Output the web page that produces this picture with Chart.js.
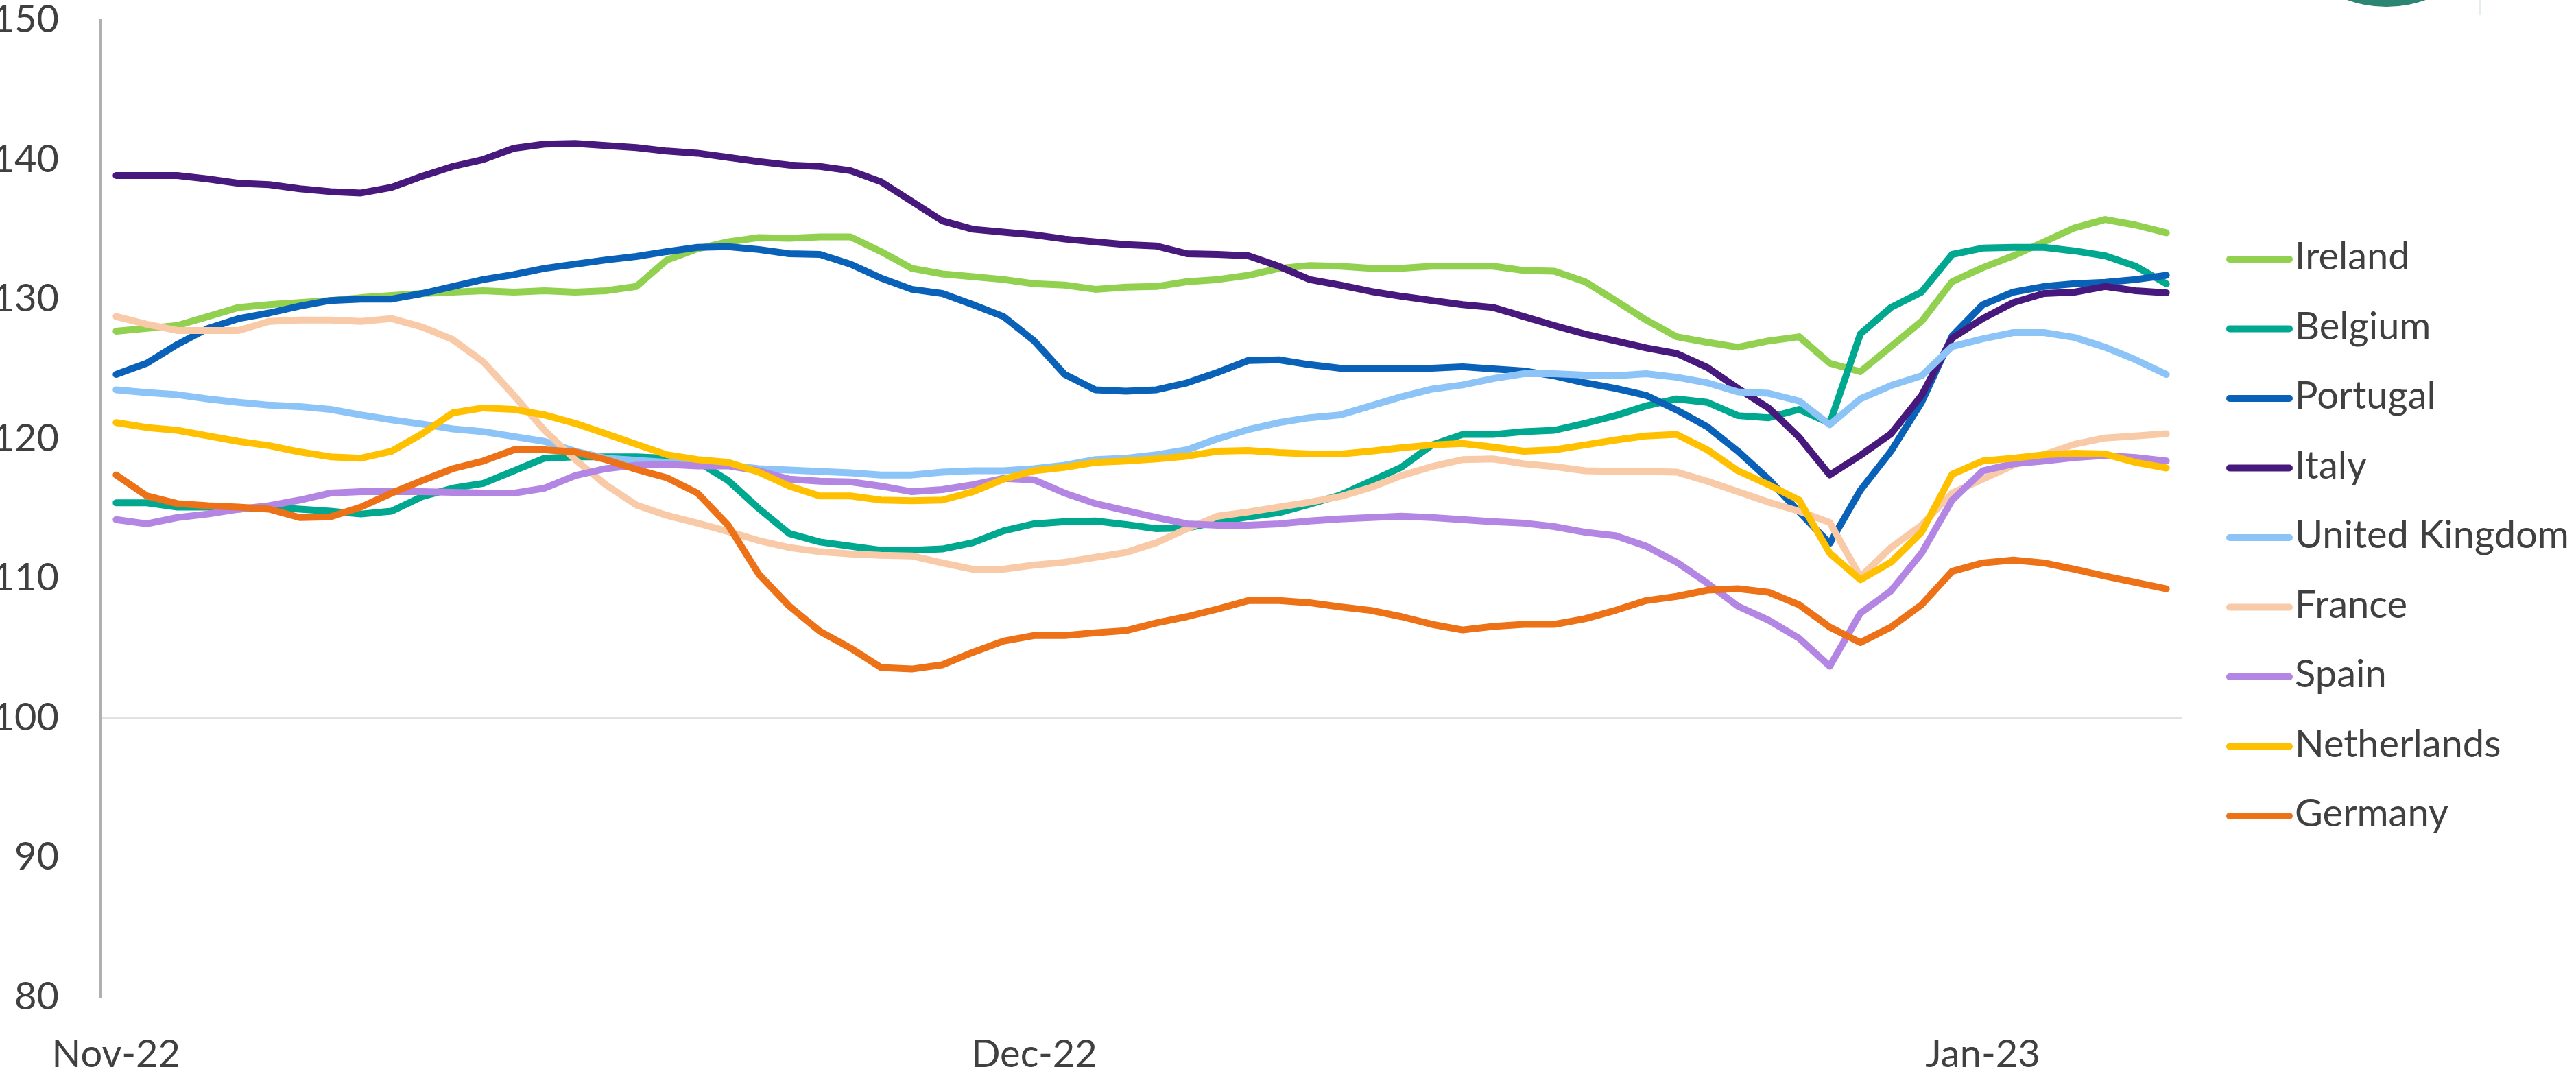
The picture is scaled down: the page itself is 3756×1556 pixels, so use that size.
<!DOCTYPE html>
<html>
<head>
<meta charset="utf-8">
<title>Index by country</title>
<script src="https://cdn.jsdelivr.net/npm/chart.js@4.4.1/dist/chart.umd.min.js"></script>
<style>
    html, body { margin: 0; padding: 0; background: #ffffff; }
    #wrap { width: 3756px; height: 1556px; position: relative; }
</style>
</head>
<body>
<div id="wrap"><canvas id="chart"></canvas></div>
<script>
// ===== DATA =====

// Daily values, 1 Nov 2022 .. 7 Jan 2023
const countries = ['Ireland', 'Belgium', 'Portugal', 'Italy', 'United Kingdom', 'France', 'Spain', 'Netherlands', 'Germany'];
const colors = ['#92d050', '#00a88f', '#0a62b8', '#47197c', '#8cc4f7', '#f8caa8', '#b386e4', '#ffc000', '#ec7117'];

const ireland = [127.7, 127.9, 128.1, 128.75, 129.4, 129.6, 129.75, 129.9, 130.1, 130.25, 130.4, 130.5, 130.6, 130.5, 130.6, 130.5, 130.6, 130.9, 132.8, 133.6,
    134.1, 134.4, 134.35, 134.45, 134.45, 133.4, 132.2, 131.8, 131.6, 131.4, 131.1, 131.0, 130.7, 130.85, 130.9, 131.25, 131.4, 131.7, 132.2, 132.4,
    132.35, 132.2, 132.2, 132.35, 132.35, 132.35, 132.05, 132.0, 131.25, 129.9, 128.5, 127.3, 126.9, 126.55, 127.0, 127.3, 125.4, 124.8, 126.6, 128.4,
    131.25, 132.25, 133.1, 134.1, 135.1, 135.7, 135.3, 134.75];
const belgium = [115.4, 115.4, 115.1, 115.1, 114.95, 115.1, 114.95, 114.8, 114.6, 114.8, 115.85, 116.45, 116.8, 117.7, 118.6, 118.7, 118.7, 118.7, 118.6, 118.35,
    117.0, 115.0, 113.2, 112.6, 112.3, 112.0, 112.0, 112.1, 112.55, 113.4, 113.9, 114.05, 114.1, 113.85, 113.55, 113.6, 114.05, 114.4, 114.7, 115.3,
    115.95, 116.95, 117.95, 119.55, 120.3, 120.3, 120.5, 120.6, 121.1, 121.65, 122.35, 122.85, 122.6, 121.65, 121.5, 122.1, 121.1, 127.5, 129.4, 130.5,
    133.2, 133.65, 133.7, 133.7, 133.45, 133.1, 132.35, 131.1];
const portugal = [124.6, 125.4, 126.75, 127.9, 128.6, 129.0, 129.5, 129.9, 130.0, 130.0, 130.4, 130.9, 131.4, 131.75, 132.2, 132.5, 132.8, 133.05, 133.4, 133.7,
    133.75, 133.55, 133.25, 133.2, 132.5, 131.5, 130.7, 130.4, 129.6, 128.75, 127.0, 124.6, 123.5, 123.4, 123.5, 124.0, 124.75, 125.6, 125.65, 125.3,
    125.05, 125.0, 125.0, 125.05, 125.15, 125.0, 124.85, 124.5, 124.0, 123.6, 123.1, 122.05, 120.85, 119.1, 117.1, 114.75, 112.5, 116.3, 119.1, 122.6,
    127.35, 129.6, 130.5, 130.9, 131.1, 131.2, 131.4, 131.7];
const italy = [138.85, 138.85, 138.85, 138.6, 138.3, 138.2, 137.9, 137.7, 137.6, 138.0, 138.8, 139.5, 140.0, 140.8, 141.1, 141.15, 141.0, 140.85, 140.6, 140.45,
    140.15, 139.85, 139.6, 139.5, 139.2, 138.4, 137.0, 135.6, 135.0, 134.8, 134.6, 134.3, 134.1, 133.9, 133.8, 133.25, 133.2, 133.1, 132.35, 131.4,
    131.0, 130.55, 130.2, 129.9, 129.6, 129.4, 128.75, 128.1, 127.5, 127.0, 126.5, 126.1, 125.1, 123.6, 122.2, 120.1, 117.4, 118.8, 120.35, 123.1,
    127.2, 128.6, 129.75, 130.4, 130.5, 130.9, 130.6, 130.45];
const unitedKingdom = [123.5, 123.3, 123.15, 122.85, 122.6, 122.4, 122.3, 122.1, 121.7, 121.35, 121.05, 120.7, 120.5, 120.15, 119.8, 119.1, 118.6, 118.45, 118.3, 118.2,
    118.1, 117.85, 117.75, 117.65, 117.55, 117.4, 117.4, 117.6, 117.7, 117.7, 117.85, 118.1, 118.5, 118.6, 118.85, 119.2, 120.0, 120.65, 121.15, 121.5,
    121.7, 122.35, 123.0, 123.55, 123.85, 124.3, 124.65, 124.65, 124.55, 124.5, 124.65, 124.4, 124.0, 123.35, 123.25, 122.7, 121.0, 122.85, 123.8, 124.5,
    126.6, 127.15, 127.6, 127.6, 127.25, 126.55, 125.65, 124.6];
const france = [128.75, 128.2, 127.75, 127.75, 127.75, 128.4, 128.5, 128.5, 128.4, 128.6, 128.0, 127.1, 125.5, 123.1, 120.6, 118.5, 116.7, 115.25, 114.5, 113.95,
    113.35, 112.7, 112.2, 111.9, 111.75, 111.65, 111.6, 111.1, 110.65, 110.65, 110.95, 111.15, 111.5, 111.85, 112.55, 113.55, 114.45, 114.75, 115.1, 115.45,
    115.85, 116.5, 117.35, 118.0, 118.5, 118.55, 118.2, 118.0, 117.7, 117.65, 117.65, 117.6, 116.95, 116.2, 115.45, 114.8, 114.0, 110.1, 112.2, 113.8,
    116.1, 117.1, 118.1, 118.85, 119.6, 120.05, 120.2, 120.35];
const spain = [114.2, 113.9, 114.35, 114.6, 114.95, 115.2, 115.6, 116.1, 116.2, 116.2, 116.2, 116.15, 116.1, 116.1, 116.45, 117.35, 117.85, 118.1, 118.15, 118.05,
    118.05, 117.7, 117.1, 116.95, 116.9, 116.6, 116.2, 116.35, 116.7, 117.15, 117.05, 116.1, 115.35, 114.85, 114.35, 113.9, 113.8, 113.8, 113.9, 114.1,
    114.25, 114.35, 114.45, 114.35, 114.2, 114.05, 113.95, 113.7, 113.3, 113.05, 112.3, 111.15, 109.65, 108.0, 107.0, 105.7, 103.7, 107.5, 109.1, 111.8,
    115.6, 117.7, 118.2, 118.4, 118.65, 118.8, 118.65, 118.4];
const netherlands = [121.15, 120.8, 120.6, 120.2, 119.8, 119.5, 119.05, 118.7, 118.6, 119.1, 120.35, 121.85, 122.2, 122.1, 121.7, 121.1, 120.35, 119.6, 118.85, 118.5,
    118.3, 117.6, 116.6, 115.9, 115.9, 115.6, 115.55, 115.6, 116.2, 117.1, 117.7, 117.95, 118.3, 118.4, 118.55, 118.75, 119.1, 119.15, 119.0, 118.9,
    118.9, 119.1, 119.35, 119.55, 119.65, 119.4, 119.1, 119.2, 119.55, 119.9, 120.2, 120.3, 119.2, 117.7, 116.7, 115.6, 111.8, 109.9, 111.15, 113.3,
    117.45, 118.4, 118.6, 118.85, 118.95, 118.9, 118.3, 117.9];
const germany = [117.4, 115.9, 115.35, 115.2, 115.1, 114.95, 114.35, 114.4, 115.1, 116.1, 117.0, 117.85, 118.4, 119.2, 119.2, 119.05, 118.5, 117.8, 117.2, 116.1,
    113.8, 110.3, 108.0, 106.2, 105.0, 103.6, 103.5, 103.8, 104.7, 105.5, 105.9, 105.9, 106.1, 106.25, 106.8, 107.25, 107.8, 108.4, 108.4, 108.25,
    107.95, 107.7, 107.25, 106.7, 106.3, 106.55, 106.7, 106.7, 107.1, 107.7, 108.4, 108.7, 109.15, 109.25, 109.0, 108.1, 106.5, 105.4, 106.5, 108.1,
    110.5, 111.1, 111.3, 111.1, 110.65, 110.15, 109.7, 109.25];

const seriesValues = [ireland, belgium, portugal, italy, unitedKingdom, france, spain, netherlands, germany];

// Month tick labels, shown on the first day of each month
const monthTicks = { 10: 'Nov-22', 11: 'Dec-22', 0: 'Jan-23' };
const days = ireland.map((v, i) => new Date(2022, 10, 1 + i));
const categories = days.map(d => d.toISOString().slice(0, 10));

const FONT = 'Lato, "Open Sans", sans-serif';
const TEXT = '#404040';
const LINE_W = 10;

// ===== PLUGINS =====

// Legend on the right, one row per country
const sideLegend = {
    id: 'sideLegend',
    afterDraw(chart) {
        const ctx = chart.ctx;
        ctx.save();
        ctx.font = '56px ' + FONT;
        ctx.fillStyle = TEXT;
        ctx.textBaseline = 'alphabetic';
        countries.forEach((name, i) => {
            const y = 378 + i * 101.5;
            ctx.strokeStyle = colors[i];
            ctx.lineWidth = LINE_W;
            ctx.lineCap = 'round';
            ctx.beginPath();
            ctx.moveTo(3251, y);
            ctx.lineTo(3338, y);
            ctx.stroke();
            ctx.fillText(name, 3346, y + 15);
        });
        ctx.restore();
    }
};

// Bit of the logo that shows at the top edge
const logoEdge = {
    id: 'logoEdge',
    afterDraw(chart) {
        const ctx = chart.ctx;
        ctx.save();
        ctx.fillStyle = '#2b8572';
        ctx.beginPath();
        ctx.arc(3479.5, -160, 170, 0, Math.PI * 2);
        ctx.fill();
        ctx.strokeStyle = '#e4eeeb';
        ctx.lineWidth = 2;
        ctx.beginPath();
        ctx.moveTo(3616, 0);
        ctx.lineTo(3616, 22);
        ctx.stroke();
        ctx.restore();
    }
};

// ===== CHART =====
function createChart() {
    const ctx = document.getElementById('chart').getContext('2d');

    new Chart(ctx, {
        type: 'line',
        data: {
            labels: categories,
            datasets: countries.map((name, i) => ({
                label: name,
                data: seriesValues[i],
                borderColor: colors[i],
                backgroundColor: colors[i],
                borderWidth: LINE_W,
                borderCapStyle: 'round',
                borderJoinStyle: 'round',
                pointRadius: 0,
                tension: 0,
                fill: false,
                order: countries.length - i
            }))
        },
        options: {
            responsive: true,
            maintainAspectRatio: false,
            devicePixelRatio: 1,
            animation: false,
            layout: { padding: { top: 29, right: 575, left: 0, bottom: 0 } },
            plugins: {
                legend: { display: false },
                tooltip: { enabled: false }
            },
            scales: {
                x: {
                    type: 'category',
                    offset: true,
                    grid: { display: false, drawTicks: false },
                    border: { display: false },
                    ticks: {
                        autoSkip: false,
                        maxRotation: 0,
                        minRotation: 0,
                        padding: 50,
                        color: TEXT,
                        font: { family: FONT, size: 56 },
                        callback: (value, index) => {
                            const d = days[index];
                            return d.getDate() === 1 ? monthTicks[d.getMonth()] : '';
                        }
                    },
                    afterFit: scale => {
                        scale.height = 102;
                        scale.paddingLeft = 0;
                        scale.paddingRight = 0;
                    }
                },
                y: {
                    min: 80,
                    max: 150,
                    grid: {
                        drawTicks: false,
                        lineWidth: 4,
                        color: c => (c.tick && c.tick.value === 100 ? '#e2e2e2' : 'rgba(0,0,0,0)')
                    },
                    border: { display: true, color: '#b0b0b0', width: 4 },
                    ticks: {
                        stepSize: 10,
                        padding: 61,
                        color: TEXT,
                        font: { family: FONT, size: 56 }
                    },
                    afterFit: scale => {
                        scale.width = 147;
                        scale.paddingTop = 0;
                        scale.paddingBottom = 0;
                    }
                }
            }
        },
        plugins: [sideLegend, logoEdge]
    });
}

document.addEventListener('DOMContentLoaded', createChart);
</script>
</body>
</html>
